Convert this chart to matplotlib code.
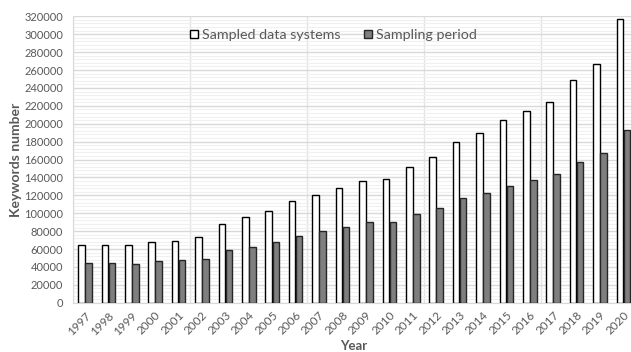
import numpy as np
import matplotlib
matplotlib.use("Agg")
import matplotlib.pyplot as plt
from matplotlib.ticker import MultipleLocator, FixedLocator

years = [str(y) for y in range(1997, 2021)]
sampled_data_systems = [
    65000, 65000, 64000, 68000, 69500, 73500, 88000, 95500, 103000, 113700,
    120500, 128000, 135500, 138500, 152000, 162500, 179500, 189500, 204500,
    214500, 224500, 248500, 267000, 317000,
]
sampling_period = [
    44000, 44000, 43000, 47000, 47500, 49000, 59500, 62500, 68000, 75000,
    80000, 85000, 90000, 90500, 99000, 106000, 117000, 122500, 130000,
    137500, 143500, 157000, 167500, 193000,
]

TEXT_GREY = "#595959"
plt.rcParams["font.family"] = ["Lato", "DejaVu Sans"]

fig = plt.figure(figsize=(6.31, 3.52), dpi=100)
ax = fig.add_axes([0.1157, 0.1398, 0.8906, 0.8139])

x = np.arange(len(years))
width = 0.28
ax.bar(x - 0.14, sampled_data_systems, width, color="white", edgecolor="black",
       linewidth=1.0, label="Sampled data systems", zorder=3)
ax.bar(x + 0.16, sampling_period, width, color="#7f7f7f", edgecolor="#262626",
       linewidth=1.0, label="Sampling period", zorder=3)

ax.set_xlim(-0.5, len(years) - 0.5)
ax.set_ylim(0, 320000)
ax.yaxis.set_major_locator(MultipleLocator(20000))
ax.yaxis.set_minor_locator(MultipleLocator(4000))
ax.set_xticks(x)
ax.set_xticklabels(years, rotation=45, ha="right", rotation_mode="anchor")
ax.xaxis.set_minor_locator(FixedLocator(np.arange(-0.5, len(years), 2.5)))

ax.grid(axis="y", which="major", color="#d9d9d9", linewidth=1.0, zorder=0)
ax.grid(axis="y", which="minor", color="#f0f0f0", linewidth=0.8, zorder=0)
ax.grid(axis="x", which="minor", color="#e3e3e3", linewidth=1.0, zorder=0)
ax.grid(axis="x", which="major", visible=False)

for side in ["top", "right"]:
    ax.spines[side].set_visible(False)
ax.spines["left"].set_color("#d9d9d9")
ax.spines["bottom"].set_color("#d9d9d9")
ax.tick_params(axis="both", which="both", length=0, colors=TEXT_GREY)
ax.tick_params(axis="y", labelsize=8, pad=7)
ax.tick_params(axis="x", labelsize=8.5, pad=5)

ax.set_ylabel("Keywords number", fontsize=10, fontweight="bold", color=TEXT_GREY, labelpad=2)
ax.set_xlabel("Year", fontsize=9.5, fontweight="bold", color=TEXT_GREY, labelpad=2)

ax.legend(loc="center", bbox_to_anchor=(0.5285, 0.9006), bbox_transform=fig.transFigure,
          ncol=2, frameon=False, fontsize=10.3, labelcolor=TEXT_GREY,
          handlelength=0.55, handleheight=0.55, handletextpad=0.3, columnspacing=1.6)

fig.savefig("out.png", dpi=100)
